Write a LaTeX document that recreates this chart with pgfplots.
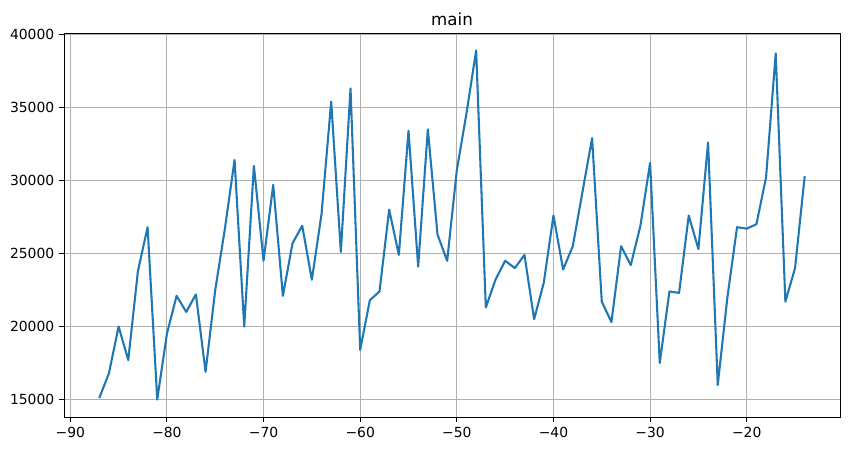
\documentclass[border=0pt]{standalone}
\usepackage{fontspec}
\setmainfont{DejaVu Sans}
\usepackage{pgfplots}
\pgfplotsset{compat=1.18}
\definecolor{tabblue}{HTML}{1F77B4}
\definecolor{gridgray}{HTML}{B0B0B0}
\begin{document}
\begin{tikzpicture}
\useasboundingbox (-46.08pt,-24.48pt) rectangle (564.48pt,300.24pt);
\begin{axis}[
    at={(0,0)}, anchor=south west,
    scale only axis,
    width=558.7pt, height=276.5pt,
    xmin=-90.65, xmax=-10.35,
    ymin=13805, ymax=40095,
    xtick={-90,-80,...,-20},
    xticklabels={−90,−80,−70,−60,−50,−40,−30,−20},
    ytick={15000,20000,...,40000},
    /pgf/number format/assume math mode=true,
    /pgf/number format/1000 sep={},
    tick label style={font=\fontsize{10}{12}\selectfont},
    scaled y ticks=false,
    grid=major,
    major grid style={gridgray, line width=0.8pt},
    tick align=outside,
    major tick length=3.5pt,
    tick style={black, line width=0.8pt},
    axis line style={line width=0.6pt},
    xtick pos=bottom, ytick pos=left,
    title={main},
    title style={font=\fontsize{12}{14}\selectfont, yshift=-4pt},
]
\addplot[tabblue, line width=1.5pt, line join=round] coordinates {
(-87,15100) (-86,16800) (-85,20000) (-84,17700) (-83,23800) (-82,26800)
(-81,15000) (-80,19500) (-79,22100) (-78,21000) (-77,22200) (-76,16900)
(-75,22500) (-74,26700) (-73,31400) (-72,20000) (-71,31000) (-70,24500)
(-69,29700) (-68,22100) (-67,25700) (-66,26900) (-65,23200) (-64,27700)
(-63,35400) (-62,25100) (-61,36300) (-60,18400) (-59,21800) (-58,22400)
(-57,28000) (-56,24900) (-55,33400) (-54,24100) (-53,33500) (-52,26300)
(-51,24500) (-50,30700) (-49,34600) (-48,38900) (-47,21300) (-46,23200)
(-45,24500) (-44,24000) (-43,24900) (-42,20500) (-41,23000) (-40,27600)
(-39,23900) (-38,25500) (-37,29200) (-36,32900) (-35,21700) (-34,20300)
(-33,25500) (-32,24200) (-31,26900) (-30,31200) (-29,17500) (-28,22400)
(-27,22300) (-26,27600) (-25,25300) (-24,32600) (-23,16000) (-22,22000)
(-21,26800) (-20,26700) (-19,27000) (-18,30200) (-17,38700) (-16,21700)
(-15,24000) (-14,30300)
};
\end{axis}
\end{tikzpicture}
\end{document}
